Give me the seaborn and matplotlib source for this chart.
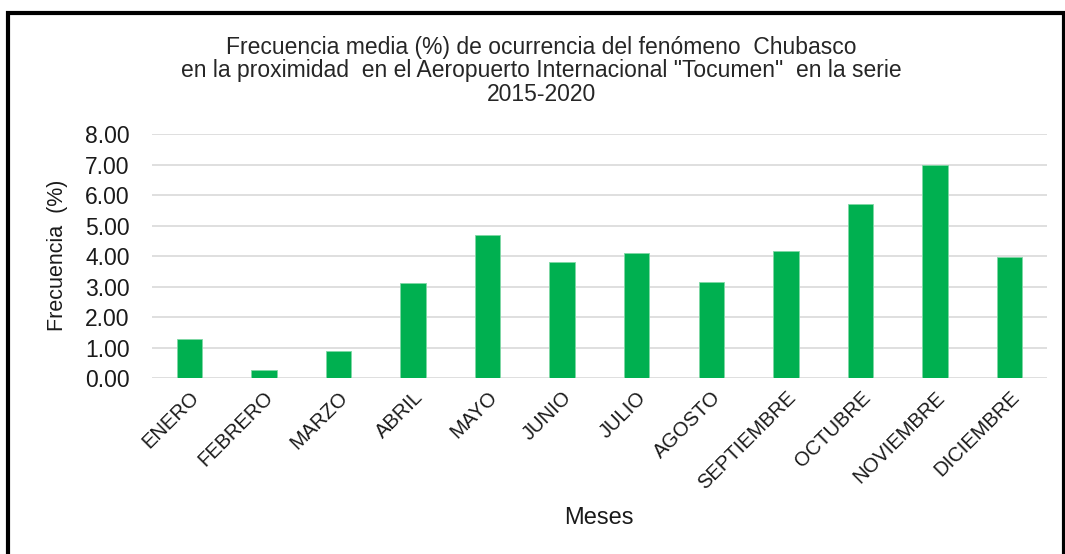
import matplotlib
matplotlib.use("Agg")
import matplotlib.pyplot as plt
import seaborn as sns
import pandas as pd
from matplotlib.patches import Rectangle

meses = ["ENERO", "FEBRERO", "MARZO", "ABRIL", "MAYO", "JUNIO", "JULIO",
         "AGOSTO", "SEPTIEMBRE", "OCTUBRE", "NOVIEMBRE", "DICIEMBRE"]
frecuencia = [1.28, 0.26, 0.90, 3.12, 4.69, 3.81, 4.09, 3.16, 4.16, 5.70, 6.98, 3.96]

titulo = ("Frecuencia media (%) de ocurrencia del fenómeno  Chubasco\n"
          "en la proximidad  en el Aeropuerto Internacional \"Tocumen\"  en la serie\n"
          "2015-2020")


def main():
    sns.set_style("white")
    plt.rcParams['font.family'] = ['Liberation Sans', 'DejaVu Sans']

    df = pd.DataFrame({"MES": meses, "FREC": frecuencia})

    fig = plt.figure(figsize=(10.65, 5.54), dpi=100)
    ax = fig.add_axes([0.1427, 0.3177, 0.8403, 0.4403])

    sns.barplot(data=df, x="MES", y="FREC", color="#00B050", saturation=1,
                width=0.34, edgecolor="#7fd8a5", linewidth=0.6, ax=ax)

    ax.set_ylim(0, 8)
    ax.set_yticks(range(0, 9))
    ax.set_yticklabels([f"{v:.2f}" for v in range(0, 9)], fontsize=16.5,
                       color="#1a1a1a")
    ax.yaxis.grid(True, color="#d9d9d9", linewidth=1.2)
    ax.set_axisbelow(True)
    for s in ax.spines.values():
        s.set_visible(False)
    ax.tick_params(axis="y", length=0, pad=16)
    ax.set_xlim(-0.5, len(meses) - 0.5)
    ax.set_xticks(range(len(meses)))
    ax.set_xticklabels(meses, rotation=45, ha="right", rotation_mode="anchor",
                       fontsize=14.5, color="#1a1a1a")
    ax.tick_params(axis="x", length=0, pad=7)

    ax.set_xlabel("")
    ax.set_ylabel("")
    fig.text(0.054, 0.54, "Frecuencia  (%)", rotation=90, ha="center",
             va="center", fontsize=15.5, color="#1a1a1a")
    fig.text(0.562, 0.065, "Meses", ha="center", va="center", fontsize=17,
             color="#1a1a1a")

    fig.text(0.508, 0.872, titulo, ha="center", va="center", fontsize=16.5,
             linespacing=1.05, color="#262626")

    # marco negro alrededor del gráfico
    fig.patches.append(Rectangle((0.0075, -0.05), 0.9915, 1.026,
                                 transform=fig.transFigure, fill=False,
                                 edgecolor="black", linewidth=3))

    fig.savefig("out.png", dpi=100, facecolor="white")
    plt.close(fig)


if __name__ == "__main__":
    main()
